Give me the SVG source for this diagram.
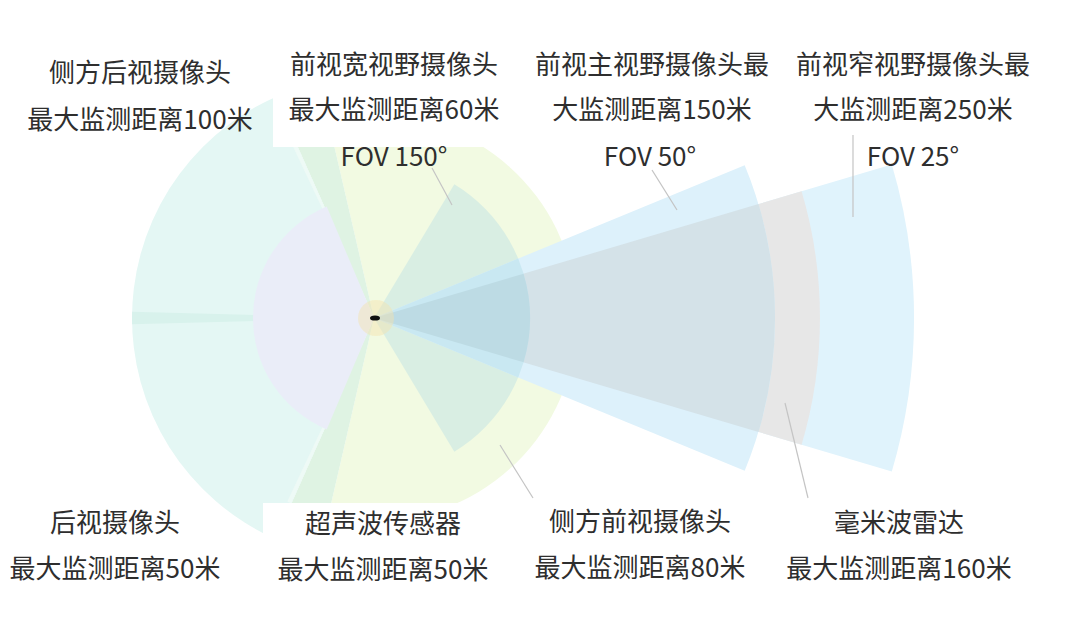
<svg xmlns="http://www.w3.org/2000/svg" width="1080" height="630" viewBox="0 0 1080 630">
<style>
text{font-family:"Noto Sans CJK SC","Noto Sans",sans-serif;font-size:26px;fill:#2e2e2e;text-anchor:middle;dominant-baseline:central}
.lead{stroke:#c4c4c4;stroke-width:1.2;fill:none}
.box{fill:#fff}
</style>
<rect width="1080" height="630" fill="#fff"/>
<g id="side-rear-cameras">
<path d="M374,318 L275.6,96.9 A242,242 0 0 0 132.1,324.3 Z" fill="#e4f7f4"/>
<path d="M374,318 L132.1,311.7 A242,242 0 0 0 275.6,539.1 Z" fill="#e4f7f4"/>
<path d="M374,318 L132.1,311.7 A242,242 0 0 0 132.1,324.3 Z" fill="#d8f2ec"/>
</g>
<g id="side-front-cameras">
<path d="M374,318 L570.1,265.5 A203,203 0 0 0 328.3,120.2 Z" fill="#f2fae2"/>
<path d="M374,318 L328.3,515.8 A203,203 0 0 0 570.1,370.5 Z" fill="#f2fae2"/>
<path d="M374,318 L328.3,120.2 A203,203 0 0 0 291.4,132.5 Z" fill="#dff3e3"/>
<path d="M374,318 L291.4,503.5 A203,203 0 0 0 328.3,515.8 Z" fill="#dff3e3"/>
<path d="M374,318 L291.4,132.5 L287.3,134.5 Z" fill="#eefaf6"/>
<path d="M374,318 L291.4,503.5 L287.3,501.5 Z" fill="#eefaf6"/>
</g>
<g id="rear-camera">
<path d="M374,318 L326.7,206.6 A121,121 0 0 0 326.7,429.4 Z" fill="#eaedf8"/>
</g>
<g id="wide-front-camera">
<path d="M374,318 L454.3,451.7 A156,156 0 0 0 454.3,184.3 Z" fill="#d9eee3"/>
</g>
<g id="narrow-front-camera">
<path d="M374,318 L891.8,471.4 A540,540 0 0 0 891.8,164.6 Z" fill="#e0f3fc"/>
</g>
<g id="radar">
<path d="M374,318 L801.6,444.7 A446,446 0 0 0 801.6,191.3 Z" fill="#e7e7e7"/>
</g>
<g id="main-front-camera">
<path d="M374,318 L744.7,470.8 A401,401 0 0 0 744.7,165.2 Z" fill="#ddf1fb"/>
<path d="M374,318 L758.5,431.9 A401,401 0 0 0 758.5,204.1 Z" fill="#d4e2e8"/>
<path d="M374,318 L518.2,377.4 A156,156 0 0 0 518.2,258.6 Z" fill="#c9e8f2"/>
<path d="M374,318 L523.6,362.3 A156,156 0 0 0 523.6,273.7 Z" fill="#bddbe4"/>
</g>
<g id="ultrasonic">
<circle cx="376" cy="318" r="18" fill="#f3e3ad" opacity="0.45"/>
</g>
<g id="car">
<ellipse cx="375" cy="318" rx="5" ry="2.6" fill="#111"/>
</g>
<g id="connectors">
<line class="lead" x1="432" y1="168" x2="452" y2="205"/>
<line class="lead" x1="652" y1="170" x2="677" y2="210"/>
<line class="lead" x1="853" y1="135" x2="853" y2="217"/>
<line class="lead" x1="785" y1="403" x2="808" y2="498"/>
<line class="lead" x1="500" y1="445" x2="533" y2="498"/>
</g>
<g id="label-side-rear">
<text x="140" y="70">侧方后视摄像头</text>
<text x="140" y="117">最大监测距离100米</text>
</g>
<g id="label-wide-front">
<rect class="box" x="273" y="30" width="232" height="117"/>
<text x="394" y="62">前视宽视野摄像头</text>
<text x="394" y="107">最大监测距离60米</text>
<text x="394" y="154">FOV 150°</text>
</g>
<g id="label-main-front">
<text x="652" y="62">前视主视野摄像头最</text>
<text x="652" y="107">大监测距离150米</text>
<text x="650" y="154">FOV 50°</text>
</g>
<g id="label-narrow-front">
<text x="913" y="62">前视窄视野摄像头最</text>
<text x="913" y="107">大监测距离250米</text>
<text x="913" y="154">FOV 25°</text>
</g>
<g id="label-rear">
<text x="115" y="520">后视摄像头</text>
<text x="115" y="566">最大监测距离50米</text>
</g>
<g id="label-ultrasonic">
<rect class="box" x="263" y="503" width="207" height="100"/>
<text x="383" y="521">超声波传感器</text>
<text x="383" y="567">最大监测距离50米</text>
</g>
<g id="label-side-front">
<text x="640" y="519">侧方前视摄像头</text>
<text x="640" y="565">最大监测距离80米</text>
</g>
<g id="label-radar">
<text x="899" y="520">毫米波雷达</text>
<text x="899" y="566">最大监测距离160米</text>
</g>
</svg>
